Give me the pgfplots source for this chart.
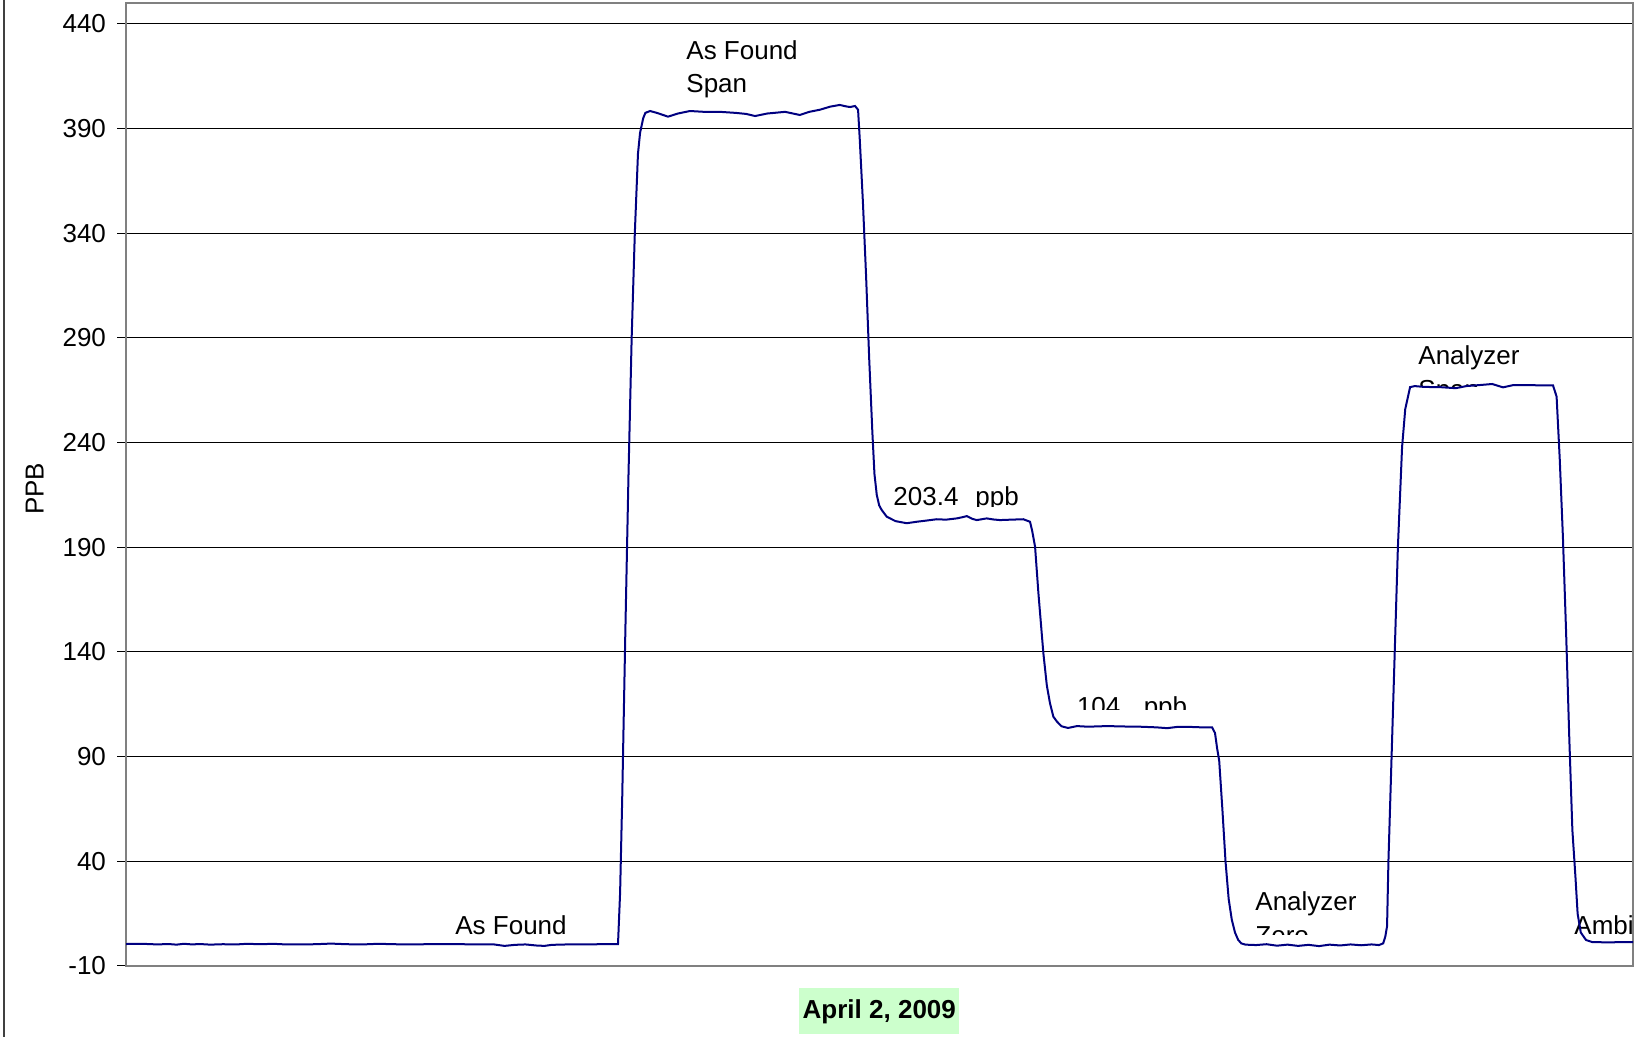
\documentclass[border=0pt]{standalone}
\usepackage{fontspec}
\setmainfont{Liberation Sans}
\usepackage{pgfplots}
\pgfplotsset{compat=1.18}
\pgfdeclarelayer{background}
\pgfsetlayers{background,main}
\definecolor{navyline}{RGB}{0,0,128}
\definecolor{boxgreen}{RGB}{204,255,204}
\definecolor{plotborder}{RGB}{128,128,128}
\definecolor{outerborder}{RGB}{64,64,64}
\newcommand\lf{\fontsize{13}{16.7}\selectfont}
\begin{document}
\begin{tikzpicture}
\useasboundingbox (-63pt,-35.5pt) rectangle (761pt,483pt);
\begin{axis}[
  at={(0,0)}, anchor=south west,
  scale only axis, width=753.5pt, height=481.5pt,
  xmin=119.9, xmax=1553.7, ymin=-10, ymax=450,
  xtick=\empty,
  ytick={-10,40,90,140,190,240,290,340,390,440},
  ymajorgrids, grid style={black, line width=0.5pt},
  axis line style={draw=plotborder, line width=1pt},
  tick align=outside, major tick length=4.5pt, ytick pos=left,
  tick style={black, line width=0.5pt},
  yticklabel style={font=\lf, xshift=-2pt},
  /pgf/number format/assume math mode=true,
]
\addplot[color=navyline, line width=1pt] table {
x y
120 0.5
135 0.6
150 0.3
160 0.5
168 0.2
175 0.6
183 0.3
190 0.5
200 0.2
212 0.4
225 0.3
235 0.6
248 0.4
260 0.6
272 0.3
285 0.3
300 0.4
315 0.7
330 0.4
345 0.3
360 0.6
375 0.4
390 0.3
405 0.4
420 0.4
440 0.4
455 0.3
470 0.3
480 -0.4
490 0.1
500 0.3
510 -0.2
518 -0.4
525 0.1
540 0.3
555 0.3
570 0.4
588 0.4
590 25
592 70
595 150
598 225
601 290
604 340
607 378
609 388
612 395
614 397.5
618.5 398.4
625 397.5
635.6 395.7
645 397.2
656.5 398.4
670 398
685 398
700 397.5
710 397
718.4 396
730 397.2
747 398
761 396.5
770 398
780 399
790 400.5
799 401.3
805 400.6
808.8 400.3
813.5 400.8
816.4 399
818 385
821 355
824 320
827 280
830 245
832 225
834.2 215
836.5 210
838.9 207.8
843.7 204.6
852 202.5
862.7 201.5
872.2 202.2
882 202.8
891.2 203.4
900 203.2
910.3 203.8
915 204.3
919.8 204.9
925 203.6
929.3 203
938.8 203.8
945 203.3
951.5 203
962 203.2
973.6 203.4
980 202.2
982 198
984.8 190.3
988 168
992.7 139.4
996 124
999 115.5
1002.2 109.1
1005.7 106.7
1010 104.5
1016.2 103.7
1024.7 104.6
1035 104.3
1053.3 104.6
1070 104.4
1084.7 104.3
1100 104
1110.4 103.6
1120 104.2
1132.3 104.2
1143 104
1153.2 104
1156 101.3
1158 94
1160 88
1163 65
1166 40
1169 22
1172 12
1175 6
1178 2.5
1181 0.8
1185 0.2
1195 0.0
1205 0.4
1215 -0.3
1225 0.2
1235 -0.4
1245 0.1
1255 -0.5
1265 0.2
1275 -0.2
1285 0.3
1295 -0.1
1305 0.3
1312 0.0
1316 0.8
1318 4
1319.7 9
1321 40
1324 90
1327 140
1330 190
1334 238
1337 256
1341.6 266.5
1346 267
1355 266.6
1370 266.5
1385 266
1395 267
1408 267.5
1419.7 268
1430 266.4
1440 267.5
1455 267.5
1467 267.3
1477.6 267.3
1481 262
1484 232
1487 195
1490 150
1493 100
1496 55
1499 32
1501 15
1504 6
1509 2.4
1515 1.4
1530 1.3
1545 1.4
1553.7 1.4
};
\end{axis}
% outer chart border (left edge)
\draw[outerborder, line width=1pt] (-61pt,-35.5pt) -- (-61pt,483pt);
% y label
\node[rotate=90, font=\lf, inner sep=0pt] at (-45.6pt,238.6pt) {PPB};
% x label box
\node[fill=boxgreen, font=\lf\bfseries, minimum width=80pt, minimum height=23pt, inner sep=0pt] at (376.65pt,-22.65pt) {April 2, 2009};
% text boxes in the plot
\begin{pgfonlayer}{background}
\node[anchor=base west, inner sep=0pt, font=\lf] at (164.5pt,15.5pt) {As Found};
\node[anchor=base west, inner sep=0pt, font=\lf, align=left] at (280pt,436.7pt) {As Found\\Span};
\begin{scope}
\clip (370pt,229.5pt) rectangle (520pt,260pt);
\node[anchor=base west, inner sep=0pt, font=\lf] at (383.5pt,230pt) {203.4\hspace{8.5pt}ppb};
\end{scope}
\begin{scope}
\clip (460pt,128pt) rectangle (600pt,160pt);
\node[anchor=base west, inner sep=0pt, font=\lf] at (475.3pt,125.2pt) {104\hspace{11.7pt}ppb};
\end{scope}
\begin{scope}
\clip (550pt,15.5pt) rectangle (660pt,60pt);
\node[anchor=base west, inner sep=0pt, font=\lf, align=left] at (564.5pt,10.8pt) {Analyzer\\Zero};
\end{scope}
\begin{scope}
\clip (630pt,289.5pt) rectangle (740pt,330pt);
\node[anchor=base west, inner sep=0pt, font=\lf, align=left] at (646pt,283.8pt) {Analyzer\\Span};
\end{scope}
\node[anchor=base west, inner sep=0pt, font=\lf] at (724pt,15.5pt) {Ambi};
\end{pgfonlayer}
\end{tikzpicture}
\end{document}
